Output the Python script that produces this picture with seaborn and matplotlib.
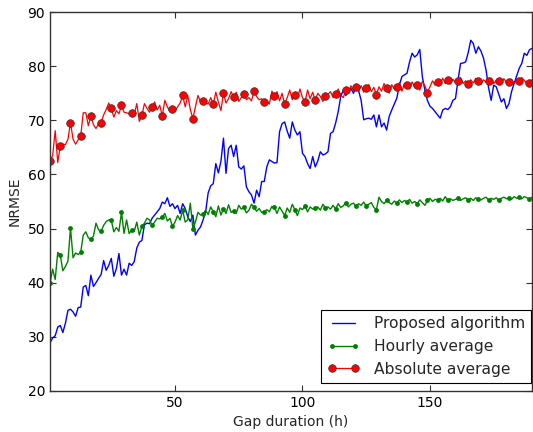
import numpy as np
import matplotlib
matplotlib.use("Agg")
import matplotlib.pyplot as plt
import seaborn as sns

# gap duration in hours
gap_hours = np.arange(1, 191)

# NRMSE of the proposed algorithm
proposed = [
    28.9, 29.8, 30.2, 31.8, 32.1, 30.8, 32.5, 34.9, 35.1, 34.6,
    33.8, 35.4, 35.5, 39.2, 39.5, 37.6, 41.4, 39.3, 40.0, 40.8,
    41.5, 44.1, 42.3, 43.2, 44.5, 41.2, 42.6, 45.4, 41.4, 42.5,
    41.4, 43.6, 43.2, 43.9, 46.4, 47.5, 47.8, 50.7, 51.0, 50.9,
    51.9, 52.5, 53.1, 53.7, 54.9, 54.6, 55.7, 54.1, 54.6, 53.7,
    54.3, 52.8, 54.6, 53.7, 52.2, 51.3, 52.5, 48.8, 49.7, 50.3,
    51.6, 53.1, 56.6, 57.9, 58.3, 62.0, 60.3, 62.4, 66.7, 60.2,
    64.8, 65.4, 63.3, 65.4, 61.4, 61.0, 61.6, 57.7, 56.8, 56.2,
    54.7, 57.1, 55.9, 58.7, 58.7, 61.4, 62.7, 62.4, 62.1, 62.2,
    67.9, 69.4, 69.7, 68.0, 66.7, 69.7, 68.2, 67.3, 67.9, 63.9,
    63.3, 62.0, 61.1, 63.3, 61.4, 62.5, 64.2, 63.6, 63.8, 64.2,
    67.6, 67.9, 69.5, 71.6, 74.4, 75.6, 74.6, 75.3, 75.9, 75.0,
    76.2, 75.5, 73.7, 70.1, 70.3, 70.4, 70.2, 71.0, 68.8, 71.0,
    68.8, 69.5, 68.2, 70.7, 71.9, 73.0, 74.1, 76.5, 78.1, 78.4,
    78.7, 80.8, 82.4, 81.7, 82.1, 83.1, 78.1, 75.6, 73.7, 72.6,
    72.2, 71.6, 71.0, 70.4, 71.9, 72.2, 72.0, 72.5, 73.7, 74.0,
    77.4, 80.5, 80.6, 80.8, 82.5, 84.8, 84.2, 82.4, 83.6, 82.8,
    81.5, 79.3, 76.0, 73.7, 76.5, 76.2, 74.8, 73.4, 74.0, 72.2,
    73.1, 75.3, 76.8, 78.2, 79.6, 80.5, 82.4, 82.0, 83.0, 83.3,
]

# NRMSE of the hourly average
hourly = [
    40.0, 42.5, 40.6, 45.6, 45.1, 42.2, 43.0, 44.0, 50.1, 44.6,
    45.5, 45.2, 45.6, 48.8, 49.4, 48.3, 48.0, 48.6, 51.0, 49.8,
    49.5, 50.6, 51.3, 51.6, 51.5, 49.4, 50.2, 49.5, 53.0, 49.1,
    51.6, 49.1, 49.7, 49.5, 51.2, 48.8, 50.4, 51.0, 51.9, 51.6,
    50.6, 51.2, 51.9, 51.8, 52.1, 52.8, 51.4, 51.9, 50.4, 51.2,
    52.4, 51.6, 53.4, 51.2, 51.6, 54.7, 50.0, 51.2, 53.0, 52.5,
    52.7, 53.4, 52.6, 54.0, 53.1, 52.2, 54.2, 52.5, 53.7, 52.8,
    54.4, 53.0, 53.3, 52.8, 54.3, 53.6, 53.9, 52.9, 53.4, 54.5,
    53.9, 53.2, 53.7, 53.0, 53.0, 53.5, 53.1, 54.1, 53.9, 52.8,
    54.0, 53.2, 52.4, 53.8, 53.0, 54.5, 53.5, 52.4, 53.8, 53.5,
    54.2, 53.1, 54.0, 53.6, 53.8, 54.0, 53.4, 54.5, 53.8, 54.0,
    53.6, 54.3, 53.6, 54.6, 53.9, 54.2, 54.8, 54.0, 54.5, 54.7,
    54.1, 54.6, 54.3, 54.9, 54.2, 54.5, 54.8, 53.9, 53.5, 55.8,
    55.0, 54.6, 55.2, 54.8, 54.5, 55.1, 54.7, 55.3, 54.8, 55.2,
    54.9, 55.4, 54.7, 55.0, 54.6, 55.3, 54.8, 54.3, 55.2, 55.6,
    55.0, 55.4, 55.3, 55.6, 55.1, 55.9, 55.2, 55.5, 55.2, 55.4,
    55.6, 55.2, 55.5, 55.7, 55.3, 55.6, 55.2, 55.7, 55.4, 55.3,
    55.6, 55.8, 55.3, 55.6, 55.4, 55.7, 55.2, 55.6, 55.8, 55.5,
    55.7, 55.4, 55.9, 55.6, 55.8, 55.5, 55.9, 55.7, 55.4, 55.8,
]

# NRMSE of the absolute average
absolute = [
    62.5, 63.5, 68.1, 62.2, 65.3, 65.6, 65.5, 66.5, 69.6, 66.5,
    65.6, 66.4, 67.1, 71.4, 71.4, 69.0, 70.8, 69.2, 68.5, 69.3,
    69.6, 71.0, 72.0, 73.2, 72.2, 70.6, 71.8, 71.2, 72.8, 71.5,
    71.4, 71.2, 71.4, 71.0, 73.1, 69.8, 70.9, 73.1, 72.2, 71.5,
    72.5, 73.4, 71.9, 72.8, 70.8, 73.7, 72.5, 71.6, 72.1, 71.7,
    72.5, 73.2, 74.6, 72.5, 74.6, 72.0, 70.3, 72.5, 74.6, 73.4,
    73.6, 73.2, 73.0, 74.2, 73.0, 75.2, 73.4, 71.8, 75.0, 73.2,
    74.0, 75.3, 74.3, 75.2, 73.5, 74.2, 74.8, 73.8, 74.2, 73.6,
    75.5, 74.4, 73.8, 74.0, 73.3, 73.6, 73.0, 75.4, 74.5, 75.3,
    73.6, 75.0, 73.0, 74.2, 75.6, 73.8, 74.7, 74.0, 75.8, 74.2,
    73.4, 75.6, 74.0, 75.2, 73.7, 75.0, 74.4, 73.5, 74.5, 74.8,
    75.3, 74.2, 74.8, 75.8, 74.6, 74.2, 75.6, 75.0, 76.4, 75.4,
    76.1, 75.4, 76.4, 75.2, 75.9, 76.6, 75.3, 76.1, 74.7, 76.2,
    75.4, 76.8, 76.0, 75.0, 76.6, 75.8, 76.1, 77.0, 75.4, 76.8,
    76.5, 75.8, 77.1, 76.2, 76.5, 75.6, 77.2, 76.4, 75.1, 76.2,
    77.3, 76.5, 77.1, 76.6, 77.8, 76.8, 77.4, 76.7, 77.6, 76.9,
    77.2, 77.9, 76.8, 77.3, 76.7, 77.5, 76.9, 77.8, 77.2, 76.6,
    77.5, 77.0, 77.2, 77.8, 76.8, 77.4, 77.2, 76.9, 77.7, 77.0,
    77.1, 77.6, 76.8, 77.5, 77.2, 77.9, 77.4, 76.8, 76.9, 77.5,
]

series_labels = ["Proposed algorithm", "Hourly average", "Absolute average"]
y_ticks = [20, 30, 40, 50, 60, 70, 80, 90]
x_ticks = [50, 100, 150]

sns.set_style("ticks")
plt.rcParams["font.family"] = ["DejaVu Sans"]

fig = plt.figure(figsize=(5.33, 4.32), dpi=100, facecolor="white")
ax = fig.add_axes([0.094, 0.095, 0.904, 0.877])

sns.lineplot(x=gap_hours, y=proposed, ax=ax, color="#0000ff", lw=1.0,
             label=series_labels[0])
sns.lineplot(x=gap_hours, y=hourly, ax=ax, color="#008000", lw=1.0,
             marker="o", markersize=3.5, markevery=4, markeredgewidth=0,
             label=series_labels[1])
sns.lineplot(x=gap_hours, y=absolute, ax=ax, color="#ff0000", lw=0.9,
             marker="o", markersize=5.5, markevery=4,
             markeredgecolor="#333333", markeredgewidth=0.5,
             label=series_labels[2])

ax.set_xlim(1, 190)
ax.set_ylim(20, 90)
ax.set_xticks(x_ticks)
ax.set_yticks(y_ticks)
ax.tick_params(direction="in", length=4, width=0.8, labelsize=10,
               top=True, right=True, colors="#333333", labelcolor="black")
for sp in ax.spines.values():
    sp.set_color("#333333")
    sp.set_linewidth(1.0)

ax.set_xlabel("Gap duration (h)", fontsize=10)
ax.set_ylabel("NRMSE", fontsize=10, labelpad=4)

leg = ax.legend(loc="lower right", bbox_to_anchor=(0.999, 0.021),
                borderaxespad=0, fontsize=11.2, fancybox=False,
                framealpha=1, edgecolor="black", numpoints=2,
                handlelength=2.1, handletextpad=0.9)
leg.get_frame().set_linewidth(0.8)

fig.savefig("out.png", dpi=100, facecolor="white")
